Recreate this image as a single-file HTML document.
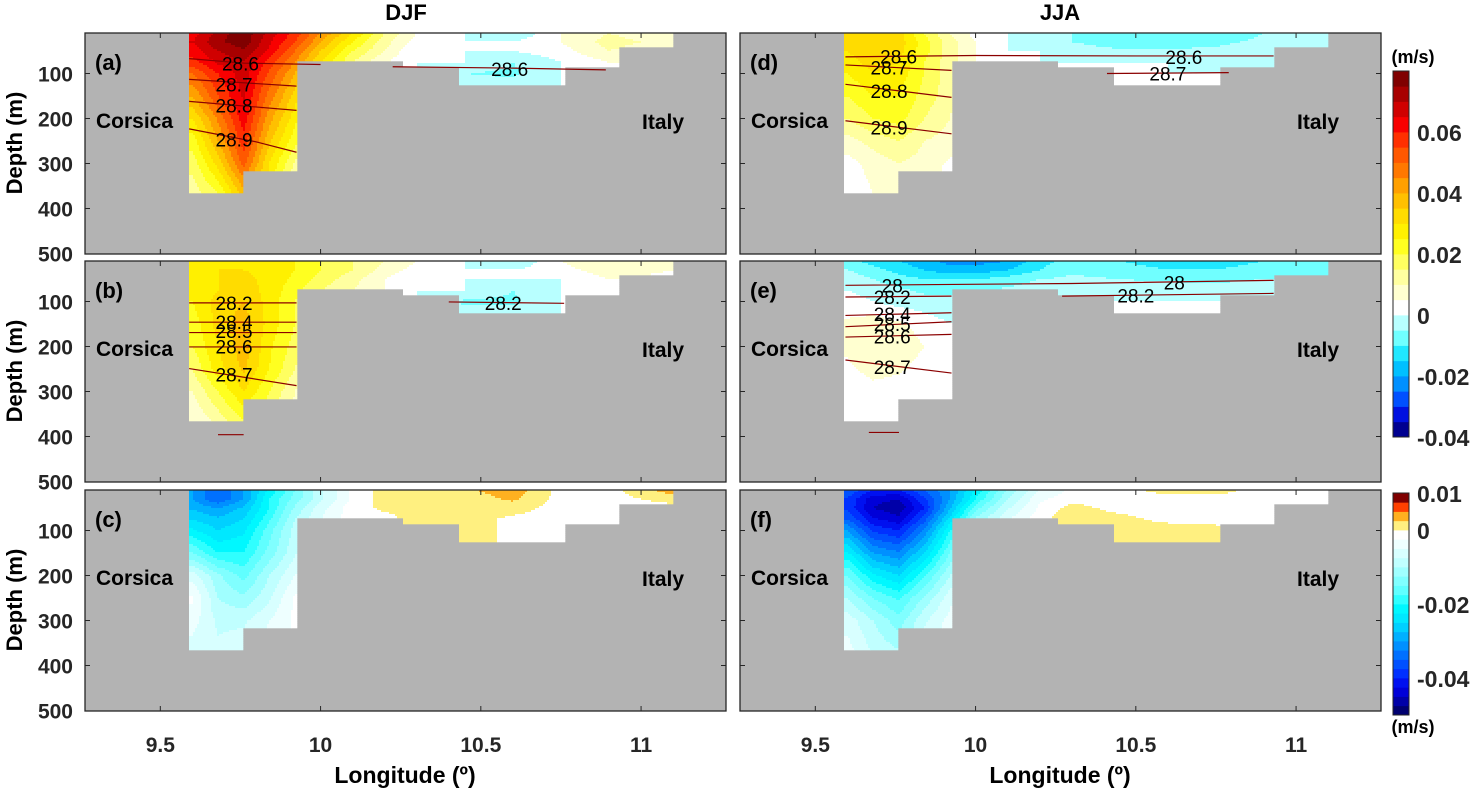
<!DOCTYPE html>
<html><head><meta charset="utf-8">
<style>
html,body{margin:0;padding:0;background:#fff;}
svg{display:block;font-family:"Liberation Sans",Arial,sans-serif;}
.b{font-weight:bold;}
</style></head>
<body>
<svg id="fig" width="1481" height="792" viewBox="0 0 1481 792" xmlns="http://www.w3.org/2000/svg">
<text x="406" y="20" text-anchor="middle" class="b" font-size="22">DJF</text>
<text x="1060" y="20" text-anchor="middle" class="b" font-size="22">JJA</text>
<text transform="translate(22,143) rotate(-90)" text-anchor="middle" class="b" font-size="22">Depth (m)</text>
<text transform="translate(22,371) rotate(-90)" text-anchor="middle" class="b" font-size="22">Depth (m)</text>
<text transform="translate(22,600) rotate(-90)" text-anchor="middle" class="b" font-size="22">Depth (m)</text>
<text x="405" y="783" text-anchor="middle" class="b" font-size="23">Longitude (º)</text>
<text x="1060" y="783" text-anchor="middle" class="b" font-size="23">Longitude (º)</text>
<g id="layer"></g>
</svg>
<script>
// ---- grids ----
const lonNodes=[9.6,9.68,9.76,9.84,9.92,10.0,10.1,10.2,10.3,10.45,10.6,10.75,10.9,11.1];
const depthNodes=[10,30,50,75,100,150,200,250,300,365];
const bathyEdges=[9.59,9.76,9.925,10.255,10.43,10.76,10.93,11.097];
const bathyDepth=[365,315,73,85,127,87,42];
// ---- velocity fields (m/s), rows = depthNodes ----
const velA=[
[0.062,0.072,0.079,0.068,0.058,0.045,0.03,0.015,0.005,0.0,-0.005,0.005,0.01,0.005],
[0.065,0.074,0.078,0.066,0.055,0.04,0.025,0.012,0.003,0.0,0.0,0.005,0.012,0.008],
[0.062,0.07,0.074,0.064,0.05,0.035,0.02,0.01,0.0,0.0,0.0,0.003,0.01,0.005],
[0.058,0.066,0.07,0.058,0.045,0.03,0.015,0.005,0,0,-0.005,0,0.005,0.005],
[0.05,0.06,0.068,0.054,0.04,0.02,0,0,0,-0.005,-0.006,0,0,0],
[0.04,0.055,0.066,0.048,0.033],
[0.03,0.046,0.063,0.042,0.027],
[0.022,0.04,0.058,0.036,0.022],
[0.017,0.032,0.052,0.03,0.014],
[0.012,0.02,0.038,0.026,0.01]];
const velB=[
[0.025,0.028,0.03,0.028,0.025,0.02,0.015,0.01,0.005,0,-0.005,0.005,0.01,0.005],
[0.025,0.03,0.03,0.028,0.025,0.02,0.015,0.008,0.003,0,0,0.003,0.008,0.005],
[0.025,0.03,0.032,0.028,0.024,0.018,0.012,0.005,0,0,0,0,0.005,0.003],
[0.025,0.03,0.033,0.028,0.022,0.015,0.01,0.005,0,0,-0.005,0,0.005,0],
[0.025,0.032,0.035,0.028,0.02,0.01,0.005,0,0,-0.006,-0.006,0,0,0],
[0.022,0.032,0.038,0.028,0.02],
[0.02,0.03,0.038,0.026,0.018],
[0.015,0.028,0.036,0.025,0.015],
[0.01,0.02,0.03,0.02,0.01],
[0.005,0.012,0.02,0.015,0.008]];
const velD=[
[0.03,0.035,0.032,0.02,0.01,0.003,0,-0.005,-0.005,-0.008,-0.01,-0.008,-0.005,-0.005],
[0.032,0.035,0.033,0.022,0.012,0.005,0,-0.003,-0.005,-0.008,-0.008,-0.006,-0.004,-0.003],
[0.03,0.034,0.032,0.022,0.012,0.005,0,0,-0.002,-0.004,-0.004,-0.004,-0.003,-0.002],
[0.028,0.032,0.03,0.02,0.012,0.005,0,0,0,0,0,-0.003,-0.003,0],
[0.025,0.03,0.028,0.02,0.012,0,0,0,0,0,0,0,0,0],
[0.02,0.025,0.025,0.018,0.012],
[0.015,0.02,0.022,0.015,0.01],
[0.008,0.012,0.015,0.01,0.008],
[0.003,0.007,0.01,0.008,0.004],
[0.001,0.005,0.008,0.006,0.003]];
const velE=[
[-0.008,-0.012,-0.015,-0.018,-0.022,-0.022,-0.02,-0.012,-0.008,-0.01,-0.012,-0.012,-0.01,-0.008],
[-0.005,-0.008,-0.012,-0.015,-0.018,-0.018,-0.015,-0.01,-0.006,-0.008,-0.01,-0.01,-0.008,-0.006],
[-0.002,-0.005,-0.008,-0.01,-0.01,-0.01,-0.008,-0.005,-0.004,-0.005,-0.006,-0.006,-0.005,-0.004],
[0,-0.002,-0.004,-0.006,-0.006,-0.005,-0.004,-0.002,-0.002,-0.002,-0.002,-0.003,-0.003,-0.002],
[0.002,0,-0.002,-0.003,-0.004,-0.002,0,0,0,0,0,0,0,0],
[0.006,0.008,0.006,0.003,0.0],
[0.006,0.009,0.008,0.005,0.002],
[0.004,0.007,0.006,0.003,0.0],
[0.0,0.003,0.002,0.0,0.0],
[0,0,0,0,0]];
const velC=[
[-0.03,-0.035,-0.03,-0.022,-0.015,-0.008,-0.002,0.001,0.002,0.002,0.004,-0.001,-0.001,0.004],
[-0.03,-0.035,-0.03,-0.02,-0.014,-0.008,-0.002,0.001,0.002,0.001,0.003,-0.001,-0.001,0.001],
[-0.028,-0.03,-0.027,-0.02,-0.012,-0.006,-0.001,0.0005,0.001,0.001,0.001,-0.001,-0.001,-0.001],
[-0.025,-0.027,-0.025,-0.018,-0.01,-0.005,-0.001,-0.001,0.001,0.001,-0.0005,-0.001,-0.001,-0.001],
[-0.022,-0.025,-0.023,-0.016,-0.009,-0.004,-0.001,-0.001,0.0005,0.001,-0.0005,-0.001,-0.001,-0.001],
[-0.015,-0.02,-0.02,-0.014,-0.008],
[-0.006,-0.012,-0.016,-0.01,-0.005],
[-0.002,-0.01,-0.012,-0.008,-0.002],
[-0.004,-0.008,-0.008,-0.005,-0.002],
[-0.006,-0.007,-0.006,-0.004,-0.002]];
const velF=[
[-0.035,-0.04,-0.04,-0.035,-0.03,-0.022,-0.012,-0.005,-0.002,-0.001,0.001,0.001,-0.001,-0.001],
[-0.038,-0.044,-0.045,-0.038,-0.03,-0.02,-0.01,-0.003,-0.001,-0.001,-0.001,-0.001,-0.001,-0.001],
[-0.038,-0.045,-0.047,-0.04,-0.028,-0.016,-0.008,-0.002,0.001,-0.001,-0.002,-0.002,-0.001,-0.001],
[-0.035,-0.042,-0.044,-0.036,-0.024,-0.012,-0.005,-0.001,0.002,0.001,-0.001,-0.001,-0.001,0],
[-0.03,-0.038,-0.04,-0.032,-0.02,-0.01,-0.002,-0.001,0.001,0.002,0.002,0.001,-0.001,0],
[-0.022,-0.03,-0.032,-0.025,-0.015],
[-0.015,-0.022,-0.025,-0.018,-0.01],
[-0.01,-0.015,-0.018,-0.012,-0.006],
[-0.006,-0.01,-0.014,-0.008,-0.004],
[-0.004,-0.008,-0.01,-0.006,-0.003]];
// ---- colour scales ----
const cmapTop=['#000090','#0010e0','#0050ff','#0090ff','#00c0ff','#20e8ff','#70ffff','#b8ffff',
'#ffffff','#ffffd0','#ffffa0','#ffff60','#ffff20','#fff000','#ffdc00','#ffc000','#ffa000','#ff7800','#ff5800','#ff3000','#f80000','#d00000','#a80000','#800000'];
const cmapBot=['#000070','#0000a8','#0000d8','#0010f0','#0030ff','#0050ff','#0070ff','#0090ff','#00b0ff','#00d0ff','#00e8ff','#00f8ff','#30ffff','#60ffff','#80ffff','#a0ffff','#c0ffff','#d8ffff','#eeffff','#ffffff',
'#fff080','#ffb020','#ff4000','#800000'];
const cbTopTicks=[0.06,0.04,0.02,0,-0.02,-0.04];
const cbTopLabels=['0.06','0.04','0.02','0','-0.02','-0.04'];
const cbBotTicks=[0.01,0,-0.02,-0.04];
const cbBotLabels=['0.01','0','-0.02','-0.04'];
// ---- isopycnals: [value, [[lon,depth],...], [labelLon,labelDepth]] ----
const isoA=[[28.6,[[9.59,67],[9.76,77],[10.0,80]],[9.75,78]],[28.6,[[10.225,85],[10.6,88],[10.89,92]],[10.59,90]],
[28.7,[[9.59,113],[9.925,128]],[9.73,124]],[28.8,[[9.59,162],[9.925,182]],[9.73,171]],[28.9,[[9.59,223],[9.8,252],[9.925,275]],[9.73,247]]];
const isoB=[[28.2,[[9.59,103],[9.925,103]],[9.73,103]],[28.2,[[10.4,101],[10.76,104]],[10.57,103]],
[28.4,[[9.59,146],[9.925,146]],[9.73,146]],[28.5,[[9.59,169],[9.925,169]],[9.73,166]],[28.6,[[9.59,201],[9.925,201]],[9.73,200]],
[28.7,[[9.59,249],[9.925,287]],[9.73,262]],[null,[[9.68,396],[9.76,396]],null]];
const isoD=[[28.6,[[9.594,63],[10.0,60],[10.5,61],[10.93,61]],[9.76,62]],[28.6,[],[10.65,63]],
[28.7,[[9.594,81],[9.925,93]],[9.73,87]],[28.7,[[10.41,100],[10.79,98]],[10.6,100]],
[28.8,[[9.594,124],[9.925,153]],[9.73,139]],[28.9,[[9.594,205],[9.925,234]],[9.73,220]]];
const isoE=[[28,[[9.594,64],[10.3,60],[10.93,53]],[9.74,64]],[28,[],[10.62,58]],
[28.2,[[9.594,90],[9.925,88]],[9.74,90]],[28.2,[[10.27,88],[10.93,82]],[10.5,87]],
[28.4,[[9.594,131],[9.925,125]],[9.74,128]],[28.5,[[9.594,156],[9.925,145]],[9.74,150]],
[28.6,[[9.594,179],[9.925,173]],[9.74,178]],[28.7,[[9.594,230],[9.925,259]],[9.74,245]],[null,[[9.667,391],[9.761,391]],null]];

const NS='http://www.w3.org/2000/svg';
const layer=document.getElementById('layer');
const LON0=9.265, PXD=320.5, W=641, H=221, DPX=0.45;
function mk(tag,attrs,parent){const e=document.createElementNS(NS,tag);for(const k in attrs)e.setAttribute(k,attrs[k]);(parent||layer).appendChild(e);return e;}
function val(grid,i,j){const r=grid[i];return (j<r.length)?r[j]:0;}
function interp(grid,lon,d){
 let j=0;while(j<lonNodes.length-2&&lon>lonNodes[j+1])j++;
 let i=0;while(i<depthNodes.length-2&&d>depthNodes[i+1])i++;
 let tx=(lon-lonNodes[j])/(lonNodes[j+1]-lonNodes[j]);tx=Math.max(0,Math.min(1,tx));
 let ty=(d-depthNodes[i])/(depthNodes[i+1]-depthNodes[i]);ty=Math.max(0,Math.min(1,ty));
 const a=val(grid,i,j),b=val(grid,i,j+1),c=val(grid,i+1,j),e=val(grid,i+1,j+1);
 return (a*(1-tx)+b*tx)*(1-ty)+(c*(1-tx)+e*tx)*ty;
}
function bottomAt(lon){if(lon<bathyEdges[0]||lon>bathyEdges[bathyEdges.length-1])return -1;
 for(let k=0;k<bathyDepth.length;k++){if(lon<=bathyEdges[k+1])return bathyDepth[k];}return -1;}
function colorOf(v,cmap,vmin,step){let k=Math.floor((v-vmin)/step);k=Math.max(0,Math.min(cmap.length-1,k));return cmap[k];}

function panel(x0,y0,grid,cmap,vmin,step,iso,letter,leftCol,bottomRow){
 const sx=lon=>x0+(lon-LON0)*PXD, sy=d=>y0+(d-10)*DPX;
 const g=mk('g',{});
 
 
 const bg=mk('rect',{x:x0,y:y0,width:W,height:H,fill:'#b3b3b3'},g);
 
 
 const fg=mk('g',{},g);
 
 
 const S=2;
 for(let py=y0;py<y0+H;py+=S){
  const d=10+(py+S/2-y0)/DPX;
  let runStart=null,runCol=null;
  const flush=(endX)=>{if(runCol){const r=mk('rect',{x:runStart,y:py,width:endX-runStart+0.3,height:S+0.3,fill:runCol},fg);
    
    }runCol=null;};
  for(let px=x0;px<x0+W;px+=S){
   const lon=LON0+(px+S/2-x0)/PXD;
   const bot=bottomAt(lon);
   let col=null;
   if(bot>0&&d<=bot)col=colorOf(interp(grid,lon,d),cmap,vmin,step);
   if(col!==runCol){flush(px);if(col){runStart=px;runCol=col;}}
  }
  flush(x0+W);
 }
 iso.forEach(it=>{
  if(it[1].length){const l=mk('polyline',{points:it[1].map(p=>sx(p[0])+','+sy(p[1])).join(' '),fill:'none',stroke:'#8b0000','stroke-width':1.2},g);
   
   }
  if(it[2]&&it[0]!==null){const t=mk('text',{x:sx(it[2][0]),y:sy(it[2][1])+7,'text-anchor':'middle','font-size':19,fill:'#000'},g);
   t.textContent=String(it[0]);
   
   }
 });
 const fr=mk('rect',{x:x0,y:y0,width:W,height:H,fill:'none',stroke:'#262626','stroke-width':1.3},g);
 
 
 [100,200,300,400].forEach(d=>{
  const t1=mk('line',{x1:x0,x2:x0+5,y1:sy(d),y2:sy(d),stroke:'#262626'},g);
  
  
  const t2=mk('line',{x1:x0+W-5,x2:x0+W,y1:sy(d),y2:sy(d),stroke:'#262626'},g);
  
  
 });
 [9.5,10,10.5,11].forEach(l=>{
  const t1=mk('line',{x1:sx(l),x2:sx(l),y1:y0+H-5,y2:y0+H,stroke:'#262626'},g);
  
  
  const t2=mk('line',{x1:sx(l),x2:sx(l),y1:y0,y2:y0+5,stroke:'#262626'},g);
  
  
 });
 if(leftCol){[100,200,300,400,500].forEach(d=>{
  const t=mk('text',{x:73,y:Math.min(sy(d),y0+H)+8,'text-anchor':'end','font-size':21,'font-weight':'bold',fill:'#262626'},g);
  t.textContent=String(d);
  
  });}
 if(bottomRow){[9.5,10,10.5,11].forEach(l=>{
  const t=mk('text',{x:sx(l),y:752,'text-anchor':'middle','font-size':21,'font-weight':'bold',fill:'#262626'},g);
  t.textContent=String(l);
  
  });}
 const pl=mk('text',{x:x0+10,y:y0+37,'font-size':22,'font-weight':'bold'},g);
 pl.textContent='('+letter+')';
 
 
 const co=mk('text',{x:x0+11,y:y0+95,'font-size':21,'font-weight':'bold'},g);
 co.textContent='Corsica';
 
 
 const it=mk('text',{x:x0+557,y:y0+96,'font-size':21,'font-weight':'bold'},g);
 it.textContent='Italy';
 
 
}
const tops=[33,261,490];
panel(85,tops[0],velA,cmapTop,-0.04,0.005,isoA,'a',true,false);
panel(85,tops[1],velB,cmapTop,-0.04,0.005,isoB,'b',true,false);
panel(85,tops[2],velC,cmapBot,-0.05,0.0025,[],'c',true,true);
panel(740,tops[0],velD,cmapTop,-0.04,0.005,isoD,'d',false,false);
panel(740,tops[1],velE,cmapTop,-0.04,0.005,isoE,'e',false,false);
panel(740,tops[2],velF,cmapBot,-0.05,0.0025,[],'f',false,true);

function colorbar(y0,y1,cmap,vmin,vmax,ticks,labels,unitY,name){
 const g=mk('g',{});
 
 
 const n=cmap.length,h=(y1-y0)/n;
 cmap.forEach((c,k)=>{const r=mk('rect',{x:1393,y:y1-(k+1)*h,width:16,height:h+0.4,fill:c},g);
  
  });
 const f=mk('rect',{x:1393,y:y0,width:16,height:y1-y0,fill:'none',stroke:'#262626'},g);
 
 
 ticks.forEach((v,k)=>{const y=y1-(v-vmin)/(vmax-vmin)*(y1-y0);
  const t=mk('text',{x:1417,y:y+9,'font-size':23,'font-weight':'bold',fill:'#262626'},g);
  t.textContent=labels[k];
  
  });
 const u=mk('text',{x:1413,y:unitY,'text-anchor':'middle','font-size':18,'font-weight':'bold'},g);
 u.textContent='(m/s)';
 
 
}
colorbar(71,437,cmapTop,-0.04,0.08,cbTopTicks,cbTopLabels,63,'colorbar-top');
colorbar(493,715,cmapBot,-0.05,0.01,cbBotTicks,cbBotLabels,733,'colorbar-bottom');
</script>
</body></html>
